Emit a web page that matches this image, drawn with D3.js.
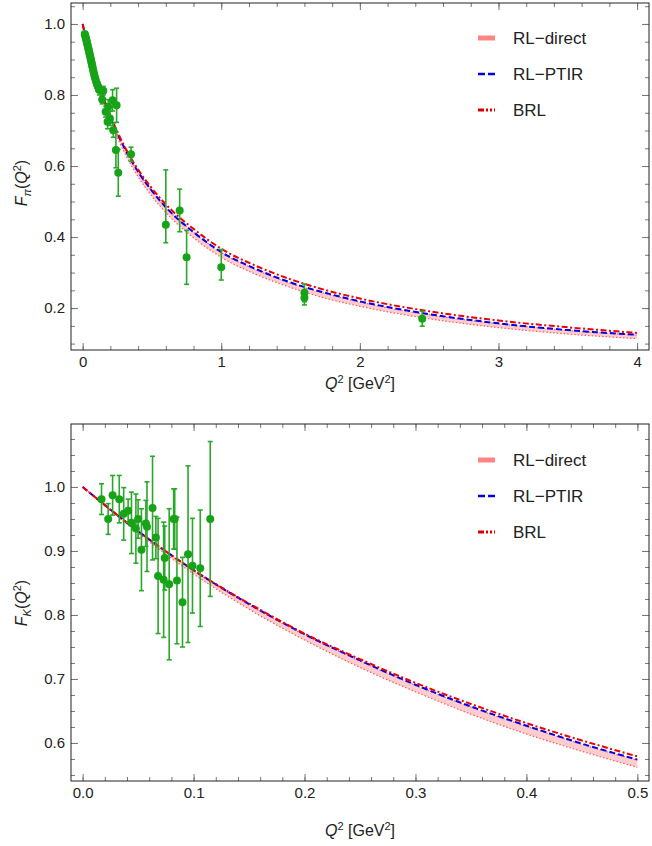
<!DOCTYPE html>
<html>
<head>
<meta charset="utf-8">
<script src="https://cdnjs.cloudflare.com/ajax/libs/d3/7.8.5/d3.min.js"></script>
<style>
  body { margin: 0; background: #fff; }
  text { font-family: "Liberation Sans", Arial, Helvetica, sans-serif; fill: #222; }
</style>
</head>
<body>
<svg width="652" height="846"></svg>
<script>
// ---- pion panel: model curves ----
var piGrid   = [0, 0.025, 0.05, 0.1, 0.15, 0.2, 0.3, 0.4, 0.5, 0.6, 0.8, 1.0, 1.25, 1.5, 1.75, 2.0, 2.5, 3.0, 3.5, 4.0];
var piPTIR   = [1.0, 0.957, 0.918, 0.849, 0.790, 0.738, 0.652, 0.584, 0.530, 0.484, 0.414, 0.358, 0.310, 0.272, 0.243, 0.219, 0.183, 0.157, 0.138, 0.125];
var piBRL    = [1.0, 0.958, 0.919, 0.851, 0.793, 0.742, 0.657, 0.590, 0.537, 0.492, 0.423, 0.367, 0.319, 0.281, 0.251, 0.227, 0.191, 0.165, 0.146, 0.130];
var piDirHi  = [1.0, 0.956, 0.917, 0.848, 0.789, 0.737, 0.651, 0.583, 0.529, 0.483, 0.413, 0.356, 0.308, 0.270, 0.241, 0.217, 0.181, 0.156, 0.137, 0.124];
var piDirLo  = [1.0, 0.955, 0.914, 0.842, 0.780, 0.727, 0.639, 0.570, 0.515, 0.469, 0.398, 0.343, 0.295, 0.258, 0.228, 0.205, 0.170, 0.145, 0.127, 0.114];

// ---- pion panel: experimental points ----
var piQ2 = [0.015, 0.018, 0.021, 0.024, 0.027, 0.030, 0.033, 0.036, 0.039, 0.042, 0.045, 0.048, 0.051, 0.054, 0.057,
            0.060, 0.063, 0.066, 0.069, 0.072, 0.076, 0.080, 0.084, 0.088, 0.092, 0.097, 0.102, 0.108, 0.114, 0.120,
            0.141, 0.149, 0.166, 0.180, 0.185, 0.197, 0.216, 0.221, 0.240, 0.245, 0.257, 0.349,
            0.60, 0.70, 0.75, 1.00, 1.60, 1.60, 2.45];
var piF  = [0.972, 0.968, 0.963, 0.958, 0.955, 0.950, 0.944, 0.940, 0.934, 0.930, 0.925, 0.918, 0.915, 0.909, 0.903,
            0.899, 0.893, 0.889, 0.882, 0.878, 0.870, 0.863, 0.856, 0.850, 0.845, 0.838, 0.832, 0.825, 0.822, 0.814,
            0.787, 0.812, 0.753, 0.725, 0.767, 0.734, 0.785, 0.701, 0.645, 0.771, 0.581, 0.633,
            0.435, 0.475, 0.343, 0.315, 0.243, 0.229, 0.170];
var piErrLo = [0.006, 0.006, 0.006, 0.006, 0.006, 0.007, 0.007, 0.007, 0.007, 0.007, 0.008, 0.008, 0.008, 0.008, 0.008,
               0.009, 0.009, 0.009, 0.009, 0.010, 0.010, 0.010, 0.011, 0.011, 0.011, 0.012, 0.012, 0.013, 0.013, 0.014,
               0.012, 0.012, 0.015, 0.020, 0.020, 0.020, 0.030, 0.020, 0.050, 0.048, 0.066, 0.020,
               0.051, 0.060, 0.076, 0.036, 0.025, 0.020, 0.021];
var piErrHi = [0.006, 0.006, 0.006, 0.006, 0.006, 0.007, 0.007, 0.007, 0.007, 0.007, 0.008, 0.008, 0.008, 0.008, 0.008,
               0.009, 0.009, 0.009, 0.009, 0.010, 0.010, 0.010, 0.011, 0.011, 0.011, 0.012, 0.012, 0.013, 0.013, 0.014,
               0.012, 0.012, 0.015, 0.020, 0.020, 0.020, 0.030, 0.020, 0.050, 0.048, 0.066, 0.020,
               0.154, 0.060, 0.076, 0.050, 0.025, 0.020, 0.021];

// ---- kaon panel: model curves ----
var kGrid   = [0, 0.05, 0.1, 0.15, 0.2, 0.25, 0.3, 0.35, 0.4, 0.45, 0.5];
var kPTIR   = [1.0, 0.931, 0.870, 0.817, 0.770, 0.729, 0.691, 0.657, 0.627, 0.599, 0.574];
var kBRL    = [1.0, 0.931, 0.870, 0.818, 0.771, 0.731, 0.694, 0.661, 0.631, 0.604, 0.579];
var kDirHi  = [1.0, 0.930, 0.869, 0.816, 0.769, 0.728, 0.690, 0.656, 0.626, 0.598, 0.573];
var kDirLo  = [1.0, 0.928, 0.864, 0.809, 0.761, 0.718, 0.680, 0.645, 0.614, 0.587, 0.562];

// ---- kaon panel: experimental points ----
var kQ2  = [0.017, 0.023, 0.027, 0.033, 0.037, 0.041, 0.044, 0.048, 0.050, 0.053, 0.057, 0.058, 0.063,
            0.066, 0.068, 0.073, 0.074, 0.078, 0.082, 0.083, 0.085, 0.090, 0.095, 0.099, 0.106, 0.115];
var kF   = [0.981, 0.950, 0.987, 0.981, 0.958, 0.963, 0.944, 0.935, 0.950, 0.902, 0.943, 0.938, 0.967,
            0.921, 0.861, 0.855, 0.889, 0.848, 0.950, 0.950, 0.854, 0.820, 0.895, 0.877, 0.873, 0.950];
var kErr = [0.024, 0.024, 0.031, 0.037, 0.041, 0.018, 0.048, 0.054, 0.030, 0.064, 0.036, 0.070, 0.081,
            0.033, 0.090, 0.090, 0.050, 0.118, 0.047, 0.047, 0.099, 0.070, 0.138, 0.074, 0.091, 0.121];

var legendLabels = ["RL\u2212direct", "RL\u2212PTIR", "BRL"];

var svg = d3.select("svg");
var left = 71, right = 649;

var fmt1 = d3.format(".1f");
function minorTicks(a, b, step) {
  return d3.range(Math.round((b - a) / step) + 1).map(i => +(a + i * step).toFixed(4));
}

function panel(o) {
  var x = d3.scaleLinear().domain(o.xDom).range([left, right]);
  var y = d3.scaleLinear().domain(o.yDom).range([o.bottom, o.top]);
  var g = svg.append("g");

  var clipId = "clip" + o.top;
  g.append("clipPath").attr("id", clipId)
    .append("rect").attr("x", left).attr("y", o.top).attr("width", right - left).attr("height", o.bottom - o.top);

  // ticks, all inward on the four sides
  var tk = g.append("g").attr("class", "ticks");
  function ax(gen, scale, vals, size, tr, labels) {
    var a = gen(scale).tickValues(vals).tickSize(-size).tickSizeOuter(0).tickPadding(6);
    if (!labels) a.tickFormat("");
    else a.tickFormat(o.fmtFor(gen));
    var s = tk.append("g").attr("transform", tr).call(a);
    s.select(".domain").remove();
    s.selectAll(".tick line").attr("stroke", "#777").attr("stroke-width", 1);
    s.selectAll(".tick text").style("font-size", "15px").attr("fill", "#222")
      .style("font-family", '"Liberation Sans", Arial, sans-serif');
    return s;
  }
  ax(d3.axisBottom, x, o.xMinor, 4, "translate(0," + o.bottom + ")", false);
  ax(d3.axisTop, x, o.xMinor, 4, "translate(0," + o.top + ")", false);
  ax(d3.axisLeft, y, o.yMinor, 4, "translate(" + left + ",0)", false);
  ax(d3.axisRight, y, o.yMinor, 4, "translate(" + right + ",0)", false);
  ax(d3.axisBottom, x, o.xMajor, 7, "translate(0," + o.bottom + ")", true);
  ax(d3.axisTop, x, o.xMajor, 7, "translate(0," + o.top + ")", false);
  ax(d3.axisLeft, y, o.yMajor, 7, "translate(" + left + ",0)", true);
  ax(d3.axisRight, y, o.yMajor, 7, "translate(" + right + ",0)", false);

  var plot = g.append("g").attr("clip-path", "url(#" + clipId + ")");

  // RL-direct band
  var band = o.grid.map((q, i) => ({ q: q, lo: o.lo[i], hi: o.hi[i] }));
  plot.append("path").datum(band)
    .attr("fill", "#ffc8c8").attr("fill-opacity", 0.9)
    .attr("d", d3.area().curve(d3.curveMonotoneX).x(d => x(d.q)).y0(d => y(d.lo)).y1(d => y(d.hi)));
  var edge = d3.line().curve(d3.curveMonotoneX).x(d => x(d[0])).y(d => y(d[1]));
  [o.lo, o.hi].forEach(function(arr) {
    plot.append("path").datum(o.grid.map((q, i) => [q, arr[i]]))
      .attr("fill", "none").attr("stroke", "#ff5a5a").attr("stroke-width", 1.2)
      .attr("stroke-dasharray", "1.5,2").attr("d", edge);
  });
  // RL-PTIR
  plot.append("path").datum(o.grid.map((q, i) => [q, o.ptir[i]]))
    .attr("fill", "none").attr("stroke", "#0000ee").attr("stroke-width", 2)
    .attr("stroke-dasharray", "6,3").attr("d", edge);
  // BRL
  plot.append("path").datum(o.grid.map((q, i) => [q, o.brl[i]]))
    .attr("fill", "none").attr("stroke", "#ee0000").attr("stroke-width", 2)
    .attr("stroke-dasharray", "6,2.5,2,2.5").attr("d", edge);

  // data with error bars
  var pts = o.dq.map((q, i) => ({ q: q, f: o.df[i], lo: o.dlo[i], hi: o.dhi[i] }));
  var eb = plot.append("g").attr("stroke", "#2aa82a").attr("stroke-width", 1.6);
  pts.forEach(function(d) {
    if (d.lo < 0.012 && d.hi < 0.012) return;
    var cx = x(d.q), y0 = y(d.f - d.lo), y1 = y(d.f + d.hi);
    eb.append("line").attr("x1", cx).attr("x2", cx).attr("y1", y0).attr("y2", y1);
    eb.append("line").attr("x1", cx - 2.5).attr("x2", cx + 2.5).attr("y1", y0).attr("y2", y0);
    eb.append("line").attr("x1", cx - 2.5).attr("x2", cx + 2.5).attr("y1", y1).attr("y2", y1);
  });
  plot.append("g").selectAll("circle").data(pts).enter().append("circle")
    .attr("cx", d => x(d.q)).attr("cy", d => y(d.f)).attr("r", 4)
    .attr("fill", "#17a317");

  // frame
  g.append("rect").attr("x", left).attr("y", o.top).attr("width", right - left).attr("height", o.bottom - o.top)
    .attr("fill", "none").attr("stroke", "#222").attr("stroke-width", 1);

  // legend
  var lg = g.append("g");
  legendLabels.forEach(function(t, i) {
    var ly = o.legendY + i * 36;
    var ln = lg.append("line").attr("x1", 478).attr("x2", 495).attr("y1", ly).attr("y2", ly);
    if (i == 0) ln.attr("stroke", "#ff8585").attr("stroke-width", 5);
    if (i == 1) ln.attr("stroke", "#0000dd").attr("stroke-width", 2.5).attr("stroke-dasharray", "7,3");
    if (i == 2) ln.attr("stroke", "#dd0000").attr("stroke-width", 3).attr("stroke-dasharray", "6,2,2,2,2,2");
    lg.append("text").attr("x", 513).attr("y", ly + 6).style("font-size", "17px").text(t);
  });

  // x title
  var xt = g.append("text").attr("x", (left + right) / 2).attr("y", o.xTitleY)
    .attr("text-anchor", "middle").style("font-size", "16px");
  xt.append("tspan").style("font-style", "italic").text("Q");
  xt.append("tspan").attr("dy", -6).style("font-size", "11px").text("2");
  xt.append("tspan").attr("dy", 6).text(" [GeV");
  xt.append("tspan").attr("dy", -6).style("font-size", "11px").text("2");
  xt.append("tspan").attr("dy", 6).text("]");

  // y title
  var yt = g.append("text").attr("transform", "translate(27," + o.yTitleY + ") rotate(-90)")
    .attr("text-anchor", "middle").style("font-size", "16px");
  yt.append("tspan").style("font-style", "italic").text("F");
  yt.append("tspan").attr("dy", 4).style("font-size", "11px").style("font-style", "italic").text(o.sub);
  yt.append("tspan").attr("dy", -4).text("(");
  yt.append("tspan").style("font-style", "italic").text("Q");
  yt.append("tspan").attr("dy", -6).style("font-size", "11px").text("2");
  yt.append("tspan").attr("dy", 6).text(")");
}

panel({
  top: 3, bottom: 350,
  xDom: [-0.084, 4.086], yDom: [0.082, 1.059],
  xMajor: [0, 1, 2, 3, 4], xMinor: minorTicks(0, 4, 0.2),
  yMajor: [0.2, 0.4, 0.6, 0.8, 1.0], yMinor: minorTicks(0.1, 1.05, 0.05),
  fmtFor: gen => gen === d3.axisBottom ? d3.format("d") : fmt1,
  grid: piGrid, lo: piDirLo, hi: piDirHi, ptir: piPTIR, brl: piBRL,
  dq: piQ2, df: piF, dlo: piErrLo, dhi: piErrHi,
  legendY: 38, xTitleY: 389, yTitleY: 183, sub: "\u03c0"
});

panel({
  top: 424, bottom: 781,
  xDom: [-0.0105, 0.5105], yDom: [0.5406, 1.0984],
  xMajor: [0, 0.1, 0.2, 0.3, 0.4, 0.5], xMinor: minorTicks(0, 0.5, 0.02),
  yMajor: [0.6, 0.7, 0.8, 0.9, 1.0], yMinor: minorTicks(0.55, 1.075, 0.025),
  fmtFor: gen => fmt1,
  grid: kGrid, lo: kDirLo, hi: kDirHi, ptir: kPTIR, brl: kBRL,
  dq: kQ2, df: kF, dlo: kErr, dhi: kErr,
  legendY: 460, xTitleY: 836, yTitleY: 603, sub: "K"
});
</script>
</body>
</html>
